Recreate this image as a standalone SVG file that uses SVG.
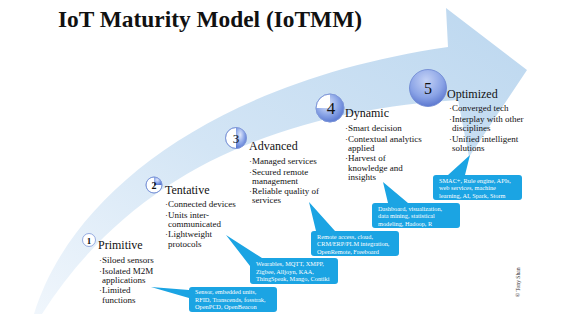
<svg xmlns="http://www.w3.org/2000/svg" width="562" height="314" viewBox="0 0 562 314">
<style>
text{font-family:"Liberation Serif","Times New Roman",serif}
.title{font-weight:bold;font-size:23px;fill:#111}
.hd{font-size:12px;fill:#111}
.bl{font-size:9px;fill:#111}
.num{fill:#111;text-anchor:middle}
.co{fill:#1ba4e3}
.ct{font-size:6.3px;fill:#ffffff}
.ball{fill:#ffffff;stroke:#7d97d8;stroke-width:0.8}
.copy{font-size:5.6px;fill:#333}
</style>
<defs>
<linearGradient id="arrowGrad" x1="0" y1="1" x2="1" y2="0">
<stop offset="0" stop-color="#f0f6fc"/>
<stop offset="0.45" stop-color="#d3e5f5"/>
<stop offset="1" stop-color="#bcd7ef"/>
</linearGradient>
<radialGradient id="blueGrad" cx="0.4" cy="0.35" r="0.7">
<stop offset="0" stop-color="#dfe7fb"/>
<stop offset="0.55" stop-color="#8ea8e8"/>
<stop offset="1" stop-color="#5574cf"/>
</radialGradient>
<radialGradient id="sphereGrad" cx="0.45" cy="0.3" r="0.75">
<stop offset="0" stop-color="#c4d2f6"/>
<stop offset="0.6" stop-color="#8aa3e6"/>
<stop offset="1" stop-color="#5470cb"/>
</radialGradient>
</defs>

<rect x="0" y="0" width="562" height="314" fill="#ffffff"/>

<g id="arrow">
<path d="M34,314 C72,190 220,80 448,47 L446,8 L527,70 L469,157 L458,100 C300,110 140,160 42,314 Z" fill="url(#arrowGrad)"/>
</g>

<text class="title" x="58" y="27" textLength="304" lengthAdjust="spacingAndGlyphs" font-family="Liberation Serif, serif">IoT Maturity Model (IoTMM)</text>

<g id="stage1" font-family="Liberation Serif, serif">
<circle class="ball" cx="89" cy="240" r="6.5"/>
<text class="num" x="89" y="243.5" font-size="9" font-weight="bold">1</text>
<text class="hd" x="98" y="249">Primitive</text>
<text class="bl" x="99" y="263">·Siloed sensors</text>
<text class="bl" x="99" y="273.5">·Isolated M2M</text>
<text class="bl" x="102" y="282.5">applications</text>
<text class="bl" x="99" y="293">·Limited</text>
<text class="bl" x="102" y="302.5">functions</text>
</g>

<g id="stage2" font-family="Liberation Serif, serif">
<circle class="ball" cx="154" cy="185" r="8"/>
<path d="M154,185 L154,177 A8,8 0 0 1 162,185 Z" fill="url(#blueGrad)"/>
<circle cx="154" cy="185" r="8" fill="none" stroke="#7d97d8" stroke-width="0.8"/>
<text class="num" x="154" y="188.5" font-size="10" font-weight="bold">2</text>
<text class="hd" x="165" y="194">Tentative</text>
<text class="bl" x="165" y="207">·Connected devices</text>
<text class="bl" x="165" y="217.5">·Units inter-</text>
<text class="bl" x="168" y="226.5">communicated</text>
<text class="bl" x="165" y="237">·Lightweight</text>
<text class="bl" x="168" y="246.5">protocols</text>
</g>

<g id="stage3" font-family="Liberation Serif, serif">
<circle class="ball" cx="236" cy="138" r="10.5"/>
<path d="M236,127.5 A10.5,10.5 0 0 1 236,148.5 Z" fill="url(#blueGrad)"/>
<circle cx="236" cy="138" r="10.5" fill="none" stroke="#7d97d8" stroke-width="0.8"/>
<text class="num" x="236" y="142.5" font-size="13">3</text>
<text class="hd" x="249" y="150">Advanced</text>
<text class="bl" x="249" y="164">·Managed services</text>
<text class="bl" x="249" y="174.5">·Secured remote</text>
<text class="bl" x="252" y="183.5">management</text>
<text class="bl" x="249" y="193.5">·Reliable quality of</text>
<text class="bl" x="252" y="203">services</text>
</g>

<g id="stage4" font-family="Liberation Serif, serif">
<circle class="ball" cx="330" cy="108" r="14"/>
<path d="M330,108 L330,94 A14,14 0 1 1 316,108 Z" fill="url(#blueGrad)"/>
<circle cx="330" cy="108" r="14" fill="none" stroke="#7d97d8" stroke-width="0.8"/>
<text class="num" x="331" y="114" font-size="17">4</text>
<text class="hd" x="345" y="117">Dynamic</text>
<text class="bl" x="345" y="131">·Smart decision</text>
<text class="bl" x="345" y="141.5">·Contextual analytics</text>
<text class="bl" x="348" y="150.5">applied</text>
<text class="bl" x="345" y="161">·Harvest of</text>
<text class="bl" x="348" y="170.5">knowledge and</text>
<text class="bl" x="348" y="179.5">insights</text>
</g>

<g id="stage5" font-family="Liberation Serif, serif">
<circle cx="428" cy="88" r="18.5" fill="url(#sphereGrad)" stroke="#6a84d0" stroke-width="0.8"/>
<text class="num" x="428" y="94" font-size="16">5</text>
<text class="hd" x="447" y="97.5">Optimized</text>
<text class="bl" x="449" y="111">·Converged tech</text>
<text class="bl" x="449" y="122">·Interplay with other</text>
<text class="bl" x="452" y="131">disciplines</text>
<text class="bl" x="449" y="141.5">·Unified intelligent</text>
<text class="bl" x="452" y="151">solutions</text>
</g>

<g id="connectors" font-family="Liberation Serif, serif">
<g id="callout1">
<path class="co" d="M192,287 H274 Q277,287 277,290 V309 Q277,312 274,312 H192 Q189,312 189,309 V298 L151,287 L189,290 Q189,287 192,287 Z"/>
<text class="ct" x="195" y="294.3">Sensor, embedded units,</text>
<text class="ct" x="195" y="301.6">RFID, Transcends, fosstrak,</text>
<text class="ct" x="195" y="308.9">OpenPCD, OpenBeacon</text>
</g>
<g id="callout2">
<path class="co" d="M262,258 H335 Q338,258 338,261 V281 Q338,284 335,284 H253 Q250,284 250,281 V266 L226,235 Z"/>
<text class="ct" x="256" y="266.3">Wearables, MQTT, XMPP,</text>
<text class="ct" x="256" y="273.6">Zigbee, Alljoyn, KAA,</text>
<text class="ct" x="256" y="280.9">ThingSpeak, Mango, Contiki</text>
</g>
<g id="callout3">
<path class="co" d="M314,231 H316 L309,202 L335,231 H396 Q399,231 399,234 V253 Q399,256 396,256 H314 Q311,256 311,253 V234 Q311,231 314,231 Z"/>
<text class="ct" x="317" y="239">Remote access, cloud,</text>
<text class="ct" x="317" y="246.3">CRM/ERP/PLM integration,</text>
<text class="ct" x="317" y="253.6">OpenRemote, Freeboard</text>
</g>
<g id="callout4">
<path class="co" d="M375,203 H388 L383,182 L408,203 H457 Q460,203 460,206 V225 Q460,228 457,228 H375 Q372,228 372,225 V206 Q372,203 375,203 Z"/>
<text class="ct" x="378" y="211">Dashboard, visualization,</text>
<text class="ct" x="378" y="218.3">data mining, statistical</text>
<text class="ct" x="378" y="225.6">modeling, Hadoop, R</text>
</g>
<g id="callout5">
<path class="co" d="M436,175 H448 L470,155 L465,175 H519 Q522,175 522,178 V197 Q522,200 519,200 H436 Q433,200 433,197 V178 Q433,175 436,175 Z"/>
<text class="ct" x="439" y="183">SMAC+, Rule engine, APIs,</text>
<text class="ct" x="439" y="190.3">web services, machine</text>
<text class="ct" x="439" y="197.6">learning, AI, Spark, Storm</text>
</g>
</g>

<text class="copy" transform="translate(520,297) rotate(-90)">© Tony Shan</text>
</svg>
